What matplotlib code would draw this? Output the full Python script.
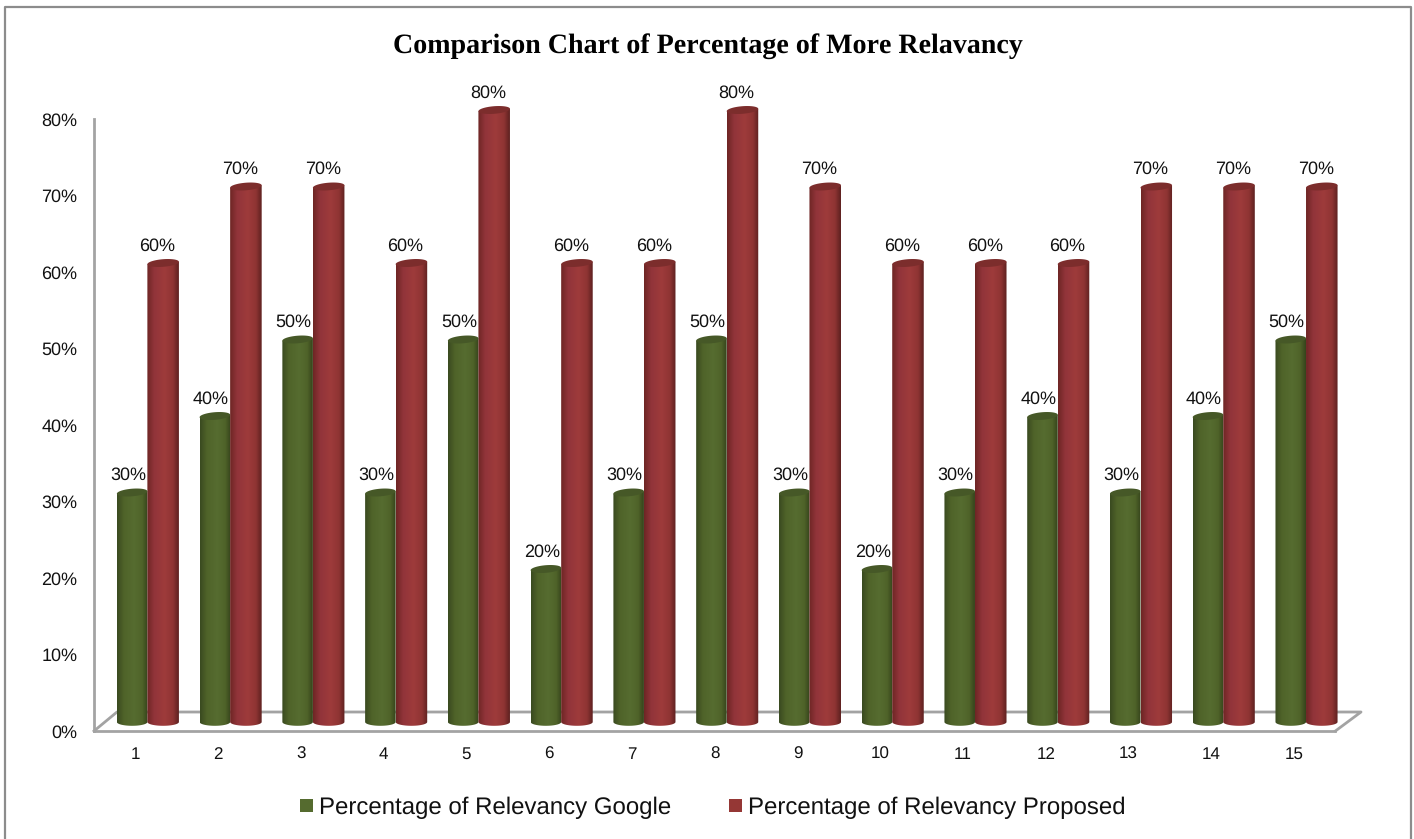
"""Comparison chart with fake 3D cylinders."""

import numpy as np
import matplotlib
matplotlib.use("Agg")
import matplotlib.pyplot as plt
from matplotlib.colors import LinearSegmentedColormap
from matplotlib.lines import Line2D
from matplotlib.patches import PathPatch, Polygon, Rectangle
from matplotlib.path import Path
from matplotlib.transforms import Affine2D

categories = list(range(1, 16))
google = [30, 40, 50, 30, 50, 20, 30, 50, 30, 20, 30, 40, 30, 40, 50]
proposed = [60, 70, 70, 60, 80, 60, 60, 80, 70, 60, 60, 60, 70, 70, 70]
y_ticks = [0, 10, 20, 30, 40, 50, 60, 70, 80]
series_names = ["Percentage of Relevancy Google", "Percentage of Relevancy Proposed"]

W, H = 1414, 839
AX_L, AX_R, AX_T, AX_B = 94, 1335.4, 119, 731
GRAY = "#a3a3a3"

plt.rcParams["font.family"] = ["Liberation Sans", "DejaVu Sans"]
plt.rcParams["text.hinting"] = "no_hinting"
plt.rcParams["text.hinting_factor"] = 1

fig = plt.figure(figsize=(W / 100, H / 100), dpi=100)
ax = fig.add_axes([AX_L / W, 1 - AX_B / H, (AX_R - AX_L) / W, (AX_B - AX_T) / H])
ax.set_zorder(2)
ax.patch.set_alpha(0)

px_y = (AX_B - AX_T) / 80

# cylinders sit a bit up and to the right of the tick positions
bar_shift = ax.transData + Affine2D().translate(12, 9)
RY = 3.8 / px_y
SKEW = 1.2 / px_y

green_cmap = LinearSegmentedColormap.from_list(
    "g", [(0, "#3a4a20"), (0.22, "#4f6329"), (0.55, "#566c30"), (0.82, "#4f6329"), (1, "#36441c")])
red_cmap = LinearSegmentedColormap.from_list(
    "r", [(0, "#6e2625"), (0.22, "#91343a"), (0.55, "#9e3b3b"), (0.82, "#8f3433"), (1, "#5e2120")])
grad = np.linspace(0, 1, 64).reshape(1, -1)


def cylinder(x0, x1, val, cmap, top):
    xm, rx = (x0 + x1) / 2, (x1 - x0) / 2
    t = np.linspace(np.pi, 2 * np.pi, 30)
    xs = np.r_[xm + rx * np.cos(t), x1, x0]
    ys = np.r_[RY * np.sin(t), val + SKEW, val - SKEW]
    body = PathPatch(Path(np.c_[xs, ys]), transform=bar_shift, fc="none", ec="none", clip_on=False)
    ax.add_patch(body)
    im = ax.imshow(grad, cmap=cmap, aspect="auto", extent=(x0, x1, -2 * RY, val + 2 * SKEW),
                   transform=bar_shift, zorder=2)
    im.set_clip_path(body)
    im.set_clip_box(fig.bbox)
    t = np.linspace(0, 2 * np.pi, 60)
    cap = np.c_[xm + rx * np.cos(t), val + RY * np.sin(t) + SKEW * np.cos(t)]
    ax.add_patch(Polygon(cap, transform=bar_shift, fc=top, ec="none", zorder=3, clip_on=False))


for i, cat in enumerate(categories):
    cylinder(cat - 0.369, cat, google[i], green_cmap, "#465827")
    cylinder(cat, cat + 0.381, proposed[i], red_cmap, "#7c2d2c")
    for x, val, dx in ((cat - 0.185, google[i], -4), (cat + 0.19, proposed[i], -6)):
        ax.annotate(f"{val}%", (x, val), xycoords=bar_shift, xytext=(dx, 8.5),
                    textcoords="offset pixels", ha="center", va="bottom",
                    fontsize=13.2, color="#111111", annotation_clip=False, zorder=4)

ax.set_xlim(0.5, 15.5)
ax.set_ylim(0, 80)

ax.set_xticks(categories)
ax.set_xticklabels([str(c) for c in categories])
ax.set_yticks(y_ticks)
ax.set_yticklabels([f"{v}%" for v in y_ticks])
ax.tick_params(axis="x", length=0, pad=11, labelsize=12, labelcolor="#111111")
ax.tick_params(axis="y", length=0, pad=12, labelsize=13.2, labelcolor="#111111")
for side in ("top", "right"):
    ax.spines[side].set_visible(False)
for side in ("left", "bottom"):
    ax.spines[side].set_color(GRAY)
    ax.spines[side].set_linewidth(2.0)


def px_line(xs, ys, color=GRAY, lw=2.0):
    fig.add_artist(Line2D([x / W for x in xs], [1 - y / H for y in ys],
                          color=color, lw=lw, zorder=1, solid_capstyle="projecting"))


# floor of the 3D box
px_line([AX_L, 117, 1361, AX_R], [AX_B, 712, 712, AX_B])

# outer frame, open at the bottom
px_line([4.5, 4.5, 1411, 1411], [H, 6.5, 6.5, H], color="#8c8c8c", lw=1.6)

fig.text(707.5 / W, 1 - 46 / H, "Comparison Chart of Percentage of More Relavancy",
         family="Liberation Serif", fontweight="bold", fontsize=20.15,
         ha="center", va="center", color="black")

# legend placed by hand to sit like the original
for lx, tx, color, name in ((300, 319, "#556b2f", series_names[0]),
                            (729, 748, "#953735", series_names[1])):
    fig.add_artist(Rectangle((lx / W, 1 - 812 / H), 13 / W, 13 / H, transform=fig.transFigure,
                             fc=color, ec="none"))
    fig.text(tx / W, 1 - 807.5 / H, name, fontsize=17.15, ha="left", va="center", color="#111111")

fig.savefig("out.png", dpi=100)
plt.close(fig)
